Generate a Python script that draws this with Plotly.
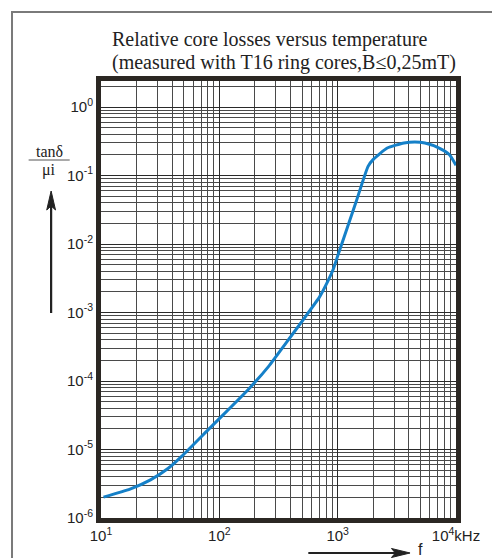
import plotly.graph_objects as go

# Data (frequency in kHz, tanδ/μi)
freq_khz = [10.5, 17.6, 26.2, 36.8, 48.3, 80.7, 100, 175, 262, 368, 518, 703, 832, 923,
            1020, 1429, 1807, 2000, 2624, 3640, 4485, 5460, 7200, 8810, 10000]
tan_delta = [2.02e-6, 2.64e-6, 3.6e-6, 5.27e-6, 8.0e-6, 1.95e-5, 2.82e-5, 7.46e-5, 1.65e-4,
             3.63e-4, 8.1e-4, 1.69e-3, 2.95e-3, 4.4e-3, 7.4e-3, 0.041, 0.136, 0.172, 0.252,
             0.299, 0.309, 0.299, 0.252, 0.201, 0.141]

x_tickvals = [10, 100, 1000, 10000]
x_ticktext = ["10<sup>1</sup>", "10<sup>2</sup>", "10<sup>3</sup>", "10<sup>4</sup>kHz"]
y_tickvals = [1, 1e-1, 1e-2, 1e-3, 1e-4, 1e-5, 1e-6]
y_ticktext = ["10<sup>0</sup>", "10<sup>-1</sup>", "10<sup>-2</sup>", "10<sup>-3</sup>",
              "10<sup>-4</sup>", "10<sup>-5</sup>", "10<sup>-6</sup>"]

title_lines = ["Relative core losses versus temperature",
               "(measured with T16 ring cores,B≤0,25mT)"]

W, H = 492, 558
L, R, T, B = 101, 28, 81, 40
PW, PH = W - L - R, H - T - B


def px(x):
    return (x - L) / PW


def py(y):
    return (H - B - y) / PH


grid_col = "#2a2a2a"
minor_col = "#4a4a4a"
ink = "#222222"
axis_font = dict(family="Liberation Sans", size=15, color=ink)
serif = "Liberation Serif"

fig = go.Figure()
fig.add_trace(go.Scatter(x=freq_khz, y=tan_delta, mode="lines",
                         line=dict(color="#1580c8", width=3, shape="spline", smoothing=0.5),
                         hoverinfo="skip", showlegend=False))

fig.update_xaxes(type="log", range=[1, 4], tickmode="array", tickvals=x_tickvals,
                 ticktext=x_ticktext, showgrid=True, gridcolor=grid_col, gridwidth=1,
                 minor=dict(showgrid=True, gridcolor=minor_col, gridwidth=1, dtick="D1"),
                 showline=True, linecolor="#2b2723", linewidth=5, mirror=True,
                 ticks="", tickfont=axis_font, zeroline=False)
fig.update_yaxes(type="log", range=[-6, 0.38], tickmode="array", tickvals=y_tickvals,
                 ticktext=y_ticktext, showgrid=True, gridcolor=grid_col, gridwidth=1,
                 minor=dict(showgrid=True, gridcolor=minor_col, gridwidth=1, dtick="D1"),
                 showline=True, linecolor="#2b2723", linewidth=5, mirror=True,
                 ticks="", tickfont=axis_font, zeroline=False)


def pline(x0, y0, x1, y1, color, width):
    return dict(type="line", xref="paper", yref="paper", x0=px(x0), x1=px(x1),
                y0=py(y0), y1=py(y1), line=dict(color=color, width=width))


def ppath(points, color):
    d = "M " + " L ".join(f"{px(a):.5f},{py(b):.5f}" for a, b in points) + " Z"
    return dict(type="path", xref="paper", yref="paper", path=d,
                fillcolor=color, line=dict(color=color, width=1))


shapes = [
    # outer frame
    dict(type="rect", xref="paper", yref="paper", x0=px(10), x1=px(520), y0=py(600), y1=py(12),
         line=dict(color="#7a7a7a", width=2), layer="below"),
    # fraction bar
    pline(27, 160, 69, 160, "#555", 1),
    # vertical arrow
    pline(50, 313, 50, 205, ink, 2.2),
    ppath([(50, 191), (45.5, 210), (50, 206), (54.5, 210)], ink),
    # horizontal arrow
    pline(313, 553, 403, 553, ink, 2.2),
    ppath([(417, 553), (398, 548.5), (402, 553), (398, 557.5)], ink),
]

annotations = [
    dict(text=title_lines[0], xref="paper", yref="paper", x=px(110), y=py(40),
         xanchor="left", yanchor="middle", showarrow=False,
         font=dict(family=serif, size=20, color=ink)),
    dict(text=title_lines[1], xref="paper", yref="paper", x=px(110), y=py(63),
         xanchor="left", yanchor="middle", showarrow=False,
         font=dict(family=serif, size=20, color=ink)),
    dict(text="tanδ", xref="paper", yref="paper", x=px(48), y=py(151),
         xanchor="center", yanchor="middle", showarrow=False,
         font=dict(family=serif, size=16, color=ink)),
    dict(text="μi", xref="paper", yref="paper", x=px(48), y=py(170),
         xanchor="center", yanchor="middle", showarrow=False,
         font=dict(family=serif, size=16, color=ink)),
    dict(text="f", xref="paper", yref="paper", x=px(428), y=py(549),
         xanchor="center", yanchor="middle", showarrow=False,
         font=dict(family="Liberation Sans", size=16, color=ink)),
]

fig.update_layout(width=W, height=H, margin=dict(l=L, r=R, t=T, b=B),
                  paper_bgcolor="white", plot_bgcolor="white",
                  shapes=shapes, annotations=annotations, showlegend=False)

fig.write_html("out.html", config={"displayModeBar": False},
               post_script="document.body.style.margin='0px';"
                           "document.body.style.overflow='hidden';")
